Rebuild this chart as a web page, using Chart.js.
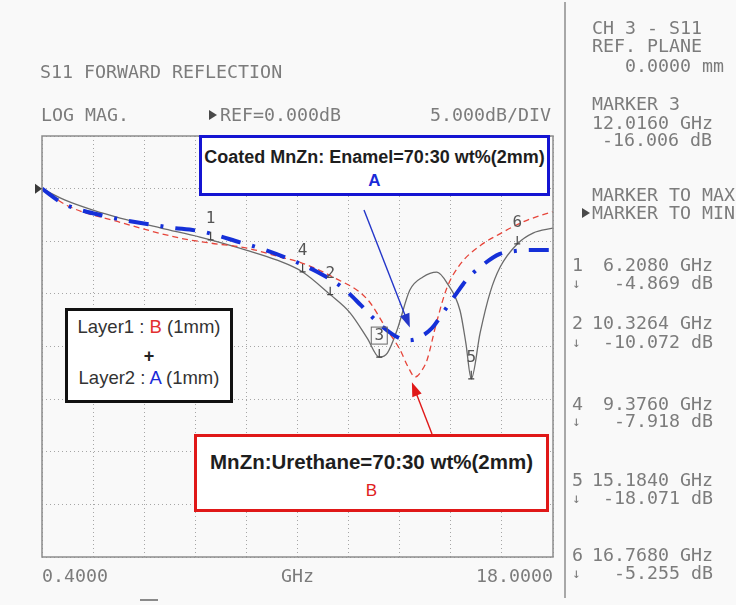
<!DOCTYPE html>
<html>
<head>
<meta charset="utf-8">
<script src="https://cdn.jsdelivr.net/npm/chart.js@4.4.1/dist/chart.umd.min.js"></script>
<style>
  html, body { margin: 0; padding: 0; }
  body { width: 736px; height: 605px; position: relative; overflow: hidden; background: #f9f9f9; font-family: "Liberation Sans", Arial, sans-serif; }
  canvas { position: absolute; left: 0; top: 0; }
  .mono { position: absolute; font-family: "DejaVu Sans Mono", monospace; font-size: 18.3px; line-height: 18px; color: #7c7c7c; white-space: pre; }
  .dir { right: 23px; text-align: right; }
  .tri { position: absolute; width: 0; height: 0; border-left: 8px solid #4a4a4a; border-top: 5px solid transparent; border-bottom: 5px solid transparent; }
  .caixa { position: absolute; box-sizing: border-box; background: #fff; }
  .txt { position: absolute; text-align: center; white-space: nowrap; color: #1e1e1e; }
  .sep { position: absolute; left: 564px; top: 2px; width: 2px; height: 596px; background: #a8a8a8; }
</style>
</head>
<body>
<canvas id="grafico" width="736" height="605"></canvas>

<!-- cabecalho do analisador -->
<div class="mono" style="left:40px;top:63px">S11 FORWARD REFLECTION</div>
<div class="mono" style="left:41px;top:106px">LOG MAG.</div>
<div class="tri" style="left:209px;top:110px"></div>
<div class="mono" style="left:220px;top:106px">REF=0.000dB</div>
<div class="mono" style="left:430px;top:106px">5.000dB/DIV</div>

<!-- painel da direita -->
<div class="sep"></div>
<div class="mono" style="left:592px;top:19px">CH 3 - S11</div>
<div class="mono" style="left:592px;top:37px">REF. PLANE</div>
<div class="mono" style="left:625px;top:57px">0.0000 mm</div>
<div class="mono" style="left:592px;top:95px">MARKER 3</div>
<div class="mono" style="left:592px;top:114px">12.0160 GHz</div>
<div class="mono" style="left:602px;top:131px">-16.006 dB</div>
<div class="mono" style="left:592px;top:186px">MARKER TO MAX</div>
<div class="tri" style="left:582px;top:208px"></div>
<div class="mono" style="left:592px;top:204px">MARKER TO MIN</div>
<div id="lista-markers"></div>

<!-- caixas de legenda -->
<div class="caixa" style="left:199px;top:135px;width:351px;height:61px;border:3px solid #1414d2"></div>
<div class="txt" style="left:199px;width:351px;top:148px;font-size:18px;line-height:18px;font-weight:bold">Coated MnZn: Enamel=70:30 wt%(2mm)</div>
<div class="txt" style="left:199px;width:351px;top:172px;font-size:17px;line-height:17px;font-weight:bold;color:#1a2ad8">A</div>

<div class="caixa" style="left:194px;top:434px;width:355px;height:78px;border:3px solid #e01818"></div>
<div class="txt" style="left:194px;width:355px;top:452px;font-size:20.5px;line-height:20.5px;font-weight:bold">MnZn:Urethane=70:30 wt%(2mm)</div>
<div class="txt" style="left:194px;width:355px;top:482px;font-size:17px;line-height:17px;color:#e02020">B</div>

<div class="caixa" style="left:65px;top:308px;width:168px;height:95px;border:3px solid #111"></div>
<div class="txt" style="left:65px;width:168px;top:317px;font-size:18.5px;line-height:19px;color:#333">Layer1 : <span style="color:#e23030">B</span> (1mm)</div>
<div class="txt" style="left:65px;width:168px;top:347px;font-size:18px;line-height:18px;font-weight:bold;color:#222">+</div>
<div class="txt" style="left:65px;width:168px;top:368px;font-size:18.5px;line-height:19px;color:#333">Layer2 : <span style="color:#1a2ad8">A</span> (1mm)</div>

<div style="position:absolute;left:140px;top:599px;width:18px;height:2px;background:#8a8a8a"></div>

<script>
// A: MnZn revestido com esmalte (2mm)
const freqA = [0.4, 1.12, 2.4, 4.7, 5.95, 7.22, 8.11, 9.01, 9.87, 10.73, 11.39, 11.7, 12.14, 12.63, 13.07, 13.35, 13.83, 14.21, 14.69, 15.04, 15.49, 16.17, 16.69, 17.2, 18.0];
const dbA = [0, -1.4, -2.5, -3.65, -4.1, -5.1, -5.84, -6.8, -7.9, -9.35, -11.1, -12.0, -13.15, -14.1, -14.4, -14.2, -13.25, -11.8, -9.9, -8.6, -7.45, -6.2, -5.93, -5.84, -5.84];

// B: MnZn:uretano (2mm)
const freqB = [0.4, 1.26, 3.09, 5.15, 6.19, 7.46, 8.6, 9.29, 10.42, 11.6, 12.28, 12.73, 13.0, 13.25, 13.5, 13.66, 14.0, 14.35, 14.8, 15.5, 16.17, 16.86, 17.4, 18.0];
const dbB = [0, -1.6, -3.2, -4.7, -5.17, -5.65, -6.5, -7.0, -8.4, -10.5, -13.4, -15.3, -16.9, -17.9, -17.2, -16.3, -12.6, -9.4, -7.2, -5.4, -4.3, -3.3, -2.7, -2.2];

// camada B (1mm) + camada A (1mm)
const freqAB = [0.4, 1.2, 2.16, 3.09, 4.5, 5.84, 6.208, 7.43, 8.5, 9.376, 10.3264, 11.01, 11.6, 12.016, 12.3, 12.63, 13.07, 13.52, 14.0, 14.35, 14.8, 15.0, 15.184, 15.49, 15.83, 16.18, 16.768, 17.31, 18.0];
const dbAB = [0, -1.1, -2.05, -2.8, -3.75, -4.6, -4.869, -5.84, -6.8, -7.918, -10.072, -11.8, -14.2, -16.006, -15.6, -13.44, -9.64, -8.4, -7.94, -8.97, -11.6, -14.7, -18.071, -13.7, -9.9, -7.45, -5.255, -4.22, -3.75];

// markers do analisador
const markerNum = [1, 2, 3, 4, 5, 6];
const markerFreq = [6.208, 10.3264, 12.016, 9.376, 15.184, 16.768];
const markerDb = [-4.869, -10.072, -16.006, -7.918, -18.071, -5.255];
const markerAtivo = 3;
const markerOrdem = [1, 2, 4, 5, 6];

// eixos
const xGridGHz = [0.4, 2.16, 3.92, 5.68, 7.44, 9.2, 10.96, 12.72, 14.48, 16.24, 18.0];
const xTickLabels = ['0.4000', '', '', '', '', 'GHz', '', '', '', '', '18.0000'];

// pontas das setas (GHz, dB)
const setaA = [13.07, -13.2];
const setaB = [13.14, -18.4];

function pontos(fs, dbs) {
    return fs.map((f, i) => ({ x: f, y: dbs[i] }));
}

// lista de markers no painel da direita
const topos = { 1: [256, 274], 2: [314, 333], 4: [395, 412], 5: [471, 489], 6: [546, 564] };
let html = '';
markerOrdem.forEach(n => {
    const i = markerNum.indexOf(n);
    const [t1, t2] = topos[n];
    html += `<div class="mono" style="left:572px;top:${t1}px">${n}</div>`;
    html += `<div class="mono dir" style="top:${t1}px">${markerFreq[i].toFixed(4)} GHz</div>`;
    html += `<div class="mono" style="left:572px;top:${t2}px;font-size:14px">↓</div>`;
    html += `<div class="mono dir" style="top:${t2}px">${markerDb[i].toFixed(3)} dB</div>`;
});
document.getElementById('lista-markers').innerHTML = html;

function seta(ctx, x1, y1, x2, y2, cor) {
    const ang = Math.atan2(y2 - y1, x2 - x1);
    const c = Math.cos(ang), s = Math.sin(ang);
    ctx.strokeStyle = cor;
    ctx.fillStyle = cor;
    ctx.lineWidth = 1.4;
    ctx.beginPath();
    ctx.moveTo(x1, y1);
    ctx.lineTo(x2 - 10 * c, y2 - 10 * s);
    ctx.stroke();
    ctx.beginPath();
    ctx.moveTo(x2, y2);
    ctx.lineTo(x2 - 14 * c + 5 * s, y2 - 14 * s - 5 * c);
    ctx.lineTo(x2 - 14 * c - 5 * s, y2 - 14 * s + 5 * c);
    ctx.closePath();
    ctx.fill();
}

const extras = {
    id: 'extras',
    afterDatasetsDraw(chart) {
        const { ctx, chartArea: a, scales: { x, y } } = chart;
        ctx.save();
        // moldura
        ctx.strokeStyle = '#8c8c8c';
        ctx.lineWidth = 1.5;
        ctx.strokeRect(a.left, a.top, a.right - a.left, a.bottom - a.top);

        // referencia 0 dB
        const y0 = y.getPixelForValue(0);
        ctx.fillStyle = '#3a3a3a';
        ctx.beginPath();
        ctx.moveTo(a.left - 7, y0 - 5);
        ctx.lineTo(a.left, y0);
        ctx.lineTo(a.left - 7, y0 + 5);
        ctx.fill();

        // markers sobre a curva combinada
        ctx.font = '16px "DejaVu Sans Mono"';
        ctx.textAlign = 'center';
        ctx.textBaseline = 'middle';
        markerNum.forEach((n, i) => {
            const px = x.getPixelForValue(markerFreq[i]);
            const py = y.getPixelForValue(markerDb[i]);
            ctx.strokeStyle = '#444';
            ctx.lineWidth = 1.2;
            ctx.beginPath();
            ctx.moveTo(px, py);
            ctx.lineTo(px, py - 8);
            ctx.moveTo(px - 3, py);
            ctx.lineTo(px + 3, py);
            ctx.stroke();
            ctx.fillStyle = '#555';
            ctx.fillText(String(n), px, py - 21);
            if (n === markerAtivo) {
                ctx.strokeStyle = '#666';
                ctx.lineWidth = 1;
                ctx.strokeRect(px - 8, py - 30, 16, 17);
            }
        });

        // setas das legendas
        seta(ctx, 364, 210, x.getPixelForValue(setaA[0]), y.getPixelForValue(setaA[1]), '#2436c8');
        seta(ctx, 432, 434, x.getPixelForValue(setaB[0]), y.getPixelForValue(setaB[1]), '#e01818');
        ctx.restore();
    }
};

const grade = { color: '#a6a6a6', lineWidth: 1, drawTicks: false };

new Chart(document.getElementById('grafico').getContext('2d'), {
    type: 'line',
    data: {
        datasets: [
            {
                label: 'A', data: pontos(freqA, dbA),
                borderColor: '#1530d8', borderWidth: 4, borderDash: [20, 12, 3, 12],
                pointRadius: 0, cubicInterpolationMode: 'monotone', fill: false
            },
            {
                label: 'B', data: pontos(freqB, dbB),
                borderColor: '#e6453a', borderWidth: 1.3, borderDash: [6, 4],
                pointRadius: 0, cubicInterpolationMode: 'monotone', fill: false
            },
            {
                label: 'B+A', data: pontos(freqAB, dbAB),
                borderColor: '#6b6b6b', borderWidth: 1.3,
                pointRadius: 0, cubicInterpolationMode: 'monotone', fill: false
            }
        ]
    },
    options: {
        responsive: false,
        animation: false,
        devicePixelRatio: 1,
        layout: { padding: { left: 42, right: 183, top: 136, bottom: 0 } },
        plugins: { legend: { display: false }, tooltip: { enabled: false } },
        scales: {
            x: {
                type: 'linear', min: 0.4, max: 18,
                afterBuildTicks: s => { s.ticks = xGridGHz.map(v => ({ value: v })); },
                afterFit: s => { s.height = 48; },
                grid: grade,
                border: { display: false, dash: [1, 3] },
                ticks: {
                    autoSkip: false, maxRotation: 0, align: 'inner', padding: 9,
                    color: '#7c7c7c', font: { family: 'DejaVu Sans Mono', size: 18.3 },
                    callback: (v, i) => xTickLabels[i]
                }
            },
            y: {
                min: -35, max: 5,
                afterFit: s => { s.width = 0; },
                grid: grade,
                border: { display: false, dash: [1, 3] },
                ticks: { stepSize: 5, display: false }
            }
        }
    },
    plugins: [extras]
});
</script>
</body>
</html>
